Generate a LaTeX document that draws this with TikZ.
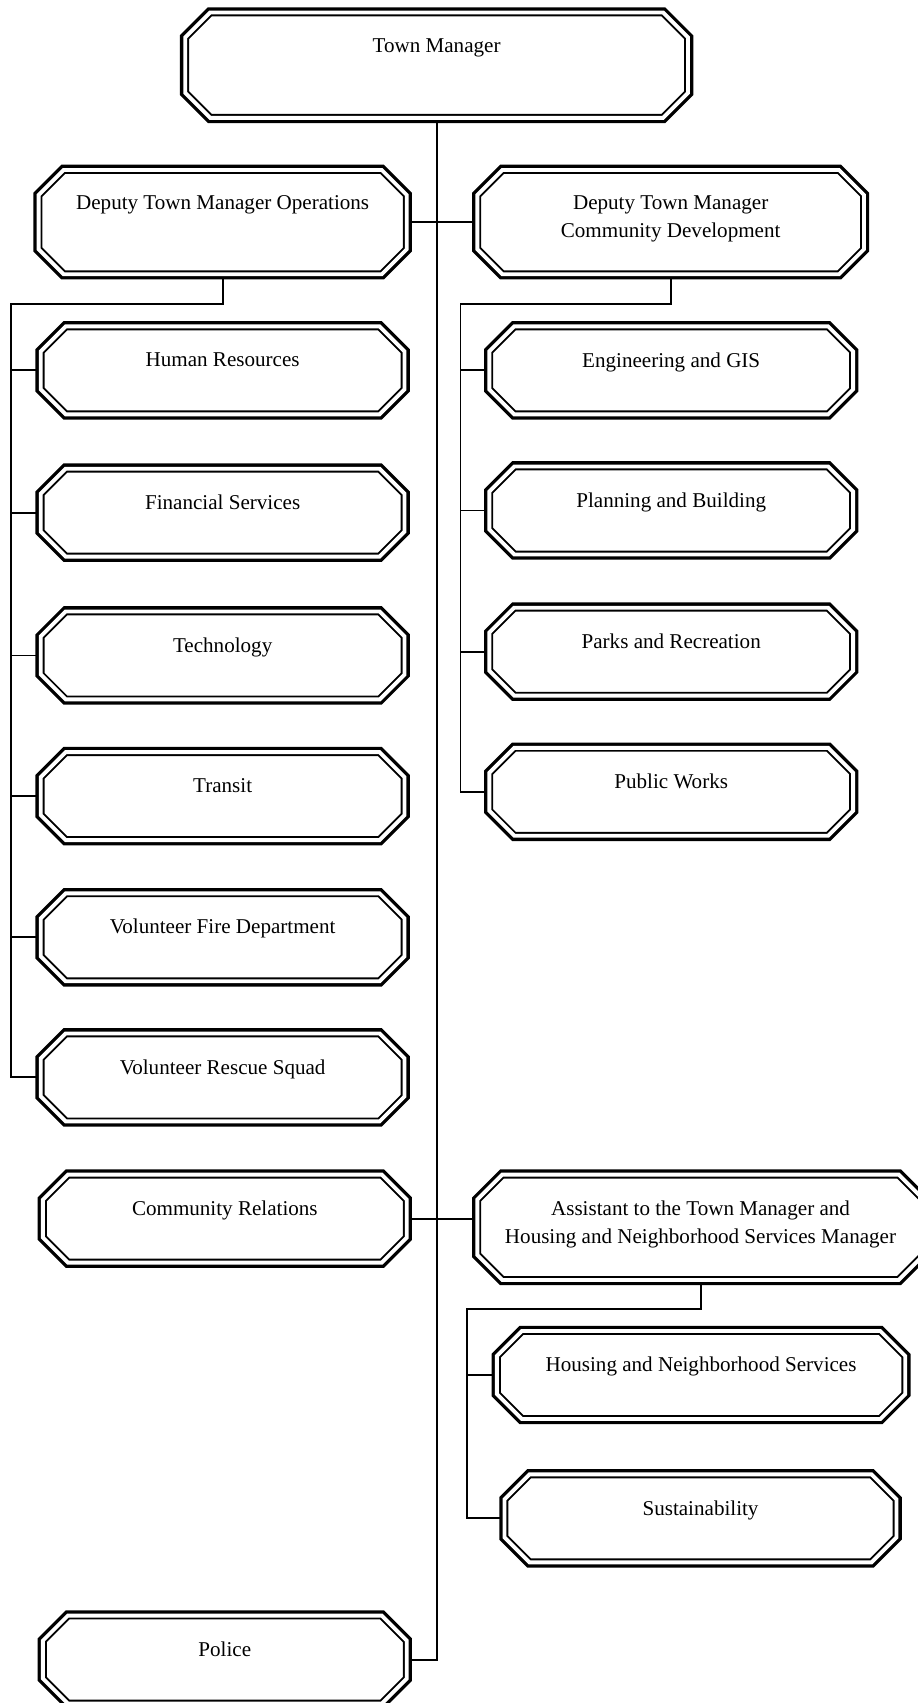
\documentclass[tikz,border=0pt]{standalone}
\usepackage{fontspec}
\setmainfont{Liberation Serif}
\usetikzlibrary{backgrounds,positioning}

\newlength{\px}
\setlength{\px}{0.021728cm}
\newlength{\cham}
\setlength{\cham}{14.2pt}

% octagon round a named node
\newcommand{\octpath}[1]{([xshift=\cham]#1.north west) -- ([xshift=-\cham]#1.north east)
    -- ([yshift=-\cham]#1.north east) -- ([yshift=\cham]#1.south east)
    -- ([xshift=-\cham]#1.south east) -- ([xshift=\cham]#1.south west)
    -- ([yshift=\cham]#1.south west) -- ([yshift=-\cham]#1.north west) -- cycle}

\tikzset{
    octline/.style={draw, fill=white, line width=1.1pt, double=white,
        double distance=2.2pt, preaction={draw, line width=6pt}},
    orgbox/.style 2 args={rectangle, inner sep=0pt,
        minimum width=#1*\px-9.7*\px, minimum height=#2*\px-9.7*\px,
        append after command={\pgfextra{\draw[octline] \octpath{\tikzlastnode};}}},
    unit/.style={orgbox={344}{90}},
    txt/.style={anchor=north, yshift=-14.6pt, inner sep=0pt, align=center,
        font=\fontsize{12}{16}\selectfont},
    conn/.style={line width=1.1pt},
}

\begin{document}
\begin{tikzpicture}[x=\px, y=-\px]
    \path[use as bounding box, clip] (0,0) rectangle (845,1568);

    % top and deputies
    \node[orgbox={472}{106}, label={[txt]north:Town Manager}] (tm) at (402,60) {};
    \node[orgbox={348}{105}, label={[txt]north:Deputy Town Manager Operations}] (do) at (205,204.5) {};
    \node[orgbox={365}{105}, label={[txt]north:Deputy Town Manager\\Community Development}] (dc) at (617.5,204.5) {};

    % operations units
    \node[unit, label={[txt]north:Human Resources}] (hr) at (205,341) {};
    \node[unit, label={[txt]north:Financial Services}] (fs) at (205,472) {};
    \node[unit, label={[txt]north:Technology}] (te) at (205,603.5) {};
    \node[unit, label={[txt]north:Transit}] (tr) at (205,733) {};
    \node[unit, label={[txt]north:Volunteer Fire Department}] (vfd) at (205,863) {};
    \node[unit, label={[txt]north:Volunteer Rescue Squad}] (vrs) at (205,992) {};

    % community development units
    \node[unit, label={[txt]north:Engineering and GIS}] (eg) at (618,341) {};
    \node[unit, label={[txt]north:Planning and Building}] (pb) at (618,470) {};
    \node[unit, label={[txt]north:Parks and Recreation}] (pr) at (618,600) {};
    \node[unit, label={[txt]north:Public Works}] (pw) at (618,729) {};

    % lower part
    \node[unit, label={[txt]north:Community Relations}] (cr) at (207,1122) {};
    \node[orgbox={420}{106}, label={[txt]north:Assistant to the Town Manager and\\Housing and Neighborhood Services Manager}] (as) at (645,1130) {};
    \node[orgbox={385}{90}, label={[txt]north:Housing and Neighborhood Services}] (hns) at (645.5,1266) {};
    \node[orgbox={370}{90}, label={[txt]north:Sustainability}] (su) at (645,1398) {};
    \node[unit, label={[txt]north:Police}] (po) at (207,1528) {};

    \coordinate (lbus) at (10,280);
    \coordinate (rbus) at (424,280);
    \coordinate (abus) at (430,1205);

    \begin{scope}[on background layer]
        \draw[conn] (tm.south) -- (tm.south |- po.east) -- (po.east);
        \draw[conn] (do.east) -- (dc.west);
        \draw[conn] (cr.east) -- (cr.east -| as.west);
        \draw[conn] (do.south) |- (lbus) -- (lbus |- vrs.west) -- (vrs.west);
        \foreach \n in {hr,fs,te,tr,vfd}
            \draw[conn] (lbus |- \n.west) -- (\n.west);
        \draw[conn] (dc.south) |- (rbus) -- (rbus |- pw.west) -- (pw.west);
        \foreach \n in {eg,pb,pr}
            \draw[conn] (rbus |- \n.west) -- (\n.west);
        \draw[conn] (as.south) |- (abus) -- (abus |- su.west) -- (su.west);
        \draw[conn] (abus |- hns.west) -- (hns.west);
    \end{scope}
\end{tikzpicture}
\end{document}
